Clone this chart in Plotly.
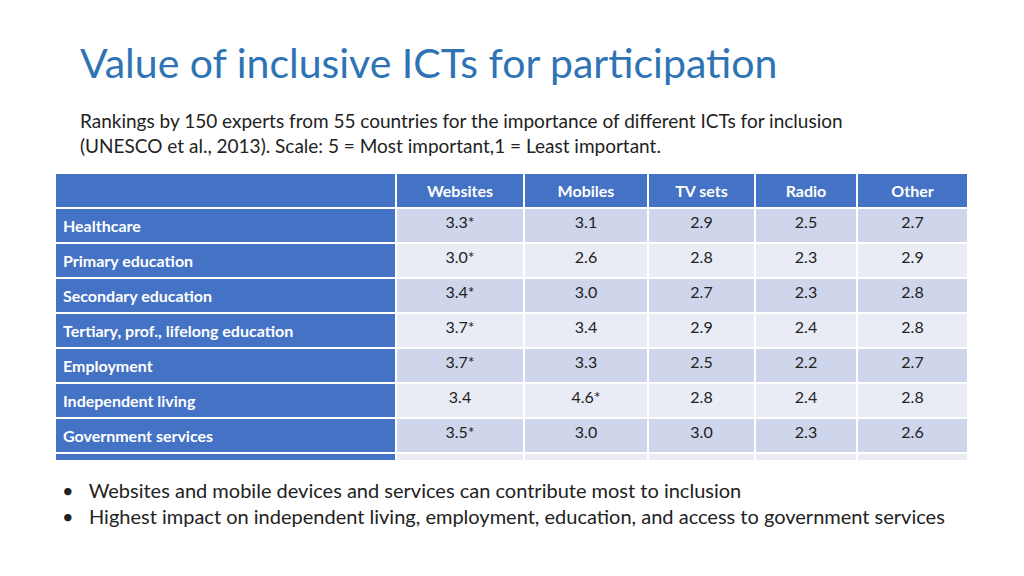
import plotly.graph_objects as go

columns = ["", "Websites", "Mobiles", "TV sets", "Radio", "Other"]
areas = ["Healthcare", "Primary education", "Secondary education",
         "Tertiary, prof., lifelong education", "Employment",
         "Independent living", "Government services",
         "Participation: Political/public life"]
websites = ["3.3*", "3.0*", "3.4*", "3.7*", "3.7*", "3.4", "3.5*", "3.3*"]
mobiles = ["3.1", "2.6", "3.0", "3.4", "3.3", "4.6*", "3.0", "3.1"]
tv_sets = ["2.9", "2.8", "2.7", "2.9", "2.5", "2.8", "3.0", "2.7"]
radio = ["2.5", "2.3", "2.3", "2.4", "2.2", "2.4", "2.3", "2.5"]
other = ["2.7", "2.9", "2.8", "2.8", "2.7", "2.8", "2.6", "2.6"]

W, H = 1024, 576
OFF = 8  # page body margin shifts the plot
blue = "#4472C4"
band = ["#CFD5EA" if i % 2 == 0 else "#E9EBF5" for i in range(len(areas))]

def px(x):
    return (x - OFF) / W

def py(y):
    return 1 - (y - OFF) / H

def pad(col):
    # last row in the original is twice as tall
    return col[:-1] + [col[-1] + "<br> "]

fig = go.Figure(go.Table(
    columnwidth=[341, 128, 124, 107, 102, 111],
    header=dict(
        values=["<b>%s</b>" % c if c else "" for c in columns],
        fill_color=blue, line=dict(color="white", width=2),
        font=dict(family="Lato", size=16, color="white"),
        align=["left", "center"], height=21,
    ),
    cells=dict(
        values=[["<b>%s</b>" % a for a in pad(areas)], pad(websites), pad(mobiles),
                pad(tv_sets), pad(radio), pad(other)],
        fill_color=[[blue] * len(areas)] + [band] * 5,
        line=dict(color="white", width=2),
        font=dict(family="Lato", size=16, color=["white", "#222222"]),
        align=["left", "center"], height=21,
    ),
    domain=dict(x=[px(55), px(968)], y=[py(460), py(173)]),
))

fig.add_annotation(x=px(78), y=py(62), xref="paper", yref="paper",
                   text="Value of inclusive ICTs for participation",
                   showarrow=False, xanchor="left", yanchor="middle",
                   font=dict(family="Lato", size=41, color="#2E74B5"))
fig.add_annotation(x=px(78), y=py(133), xref="paper", yref="paper",
                   text="Rankings by 150 experts from 55 countries for the importance of different ICTs for inclusion"
                        "<br>(UNESCO et al., 2013). Scale: 5 = Most important,1 = Least important.",
                   showarrow=False, xanchor="left", yanchor="middle", align="left",
                   font=dict(family="Lato", size=19, color="#222222"))
fig.add_annotation(x=px(60), y=py(503), xref="paper", yref="paper",
                   text="•   Websites and mobile devices and services can contribute most to inclusion"
                        "<br>•   Highest impact on independent living, employment, education, and access to government services",
                   showarrow=False, xanchor="left", yanchor="middle", align="left",
                   font=dict(family="Lato", size=20, color="#222222"))

fig.update_layout(width=W, height=H, margin=dict(l=0, r=0, t=0, b=0),
                  paper_bgcolor="white")
fig.write_html("out.html")
